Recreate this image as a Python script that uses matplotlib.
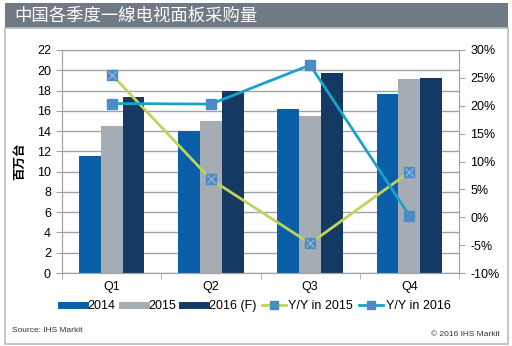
import numpy as np
import matplotlib
matplotlib.use("Agg")
import matplotlib.pyplot as plt
from matplotlib.patches import Rectangle
from matplotlib.lines import Line2D
from matplotlib.ticker import FuncFormatter

plt.rcParams['font.family'] = ['Liberation Sans', 'Noto Sans CJK SC']

quarters = ["Q1", "Q2", "Q3", "Q4"]
shipments_2014 = [11.5, 14.0, 16.2, 17.7]
shipments_2015 = [14.5, 15.0, 15.5, 19.1]
shipments_2016 = [17.4, 18.0, 19.7, 19.2]
yoy_2015 = [25.6, 6.8, -4.7, 8.1]
yoy_2016 = [20.4, 20.3, 27.3, 0.3]

c2014 = "#0b5ea8"
c2015 = "#a5acb3"
c2016 = "#143a64"
c_yoy15 = "#bfd35a"
c_yoy16 = "#1ba2c8"
c_marker = "#4b8cc6"
grid_c = "#a0a4a8"

fig = plt.figure(figsize=(5.12, 3.46), dpi=100)

# title bar
fig.patches.append(Rectangle((5 / 512, 1 - 28 / 346), 503 / 512, 25 / 346,
                             transform=fig.transFigure, facecolor="#6f7a84",
                             edgecolor="none"))
fig.text(14 / 512, 1 - 16 / 346, "中国各季度一線电视面板采购量", color="white",
         fontsize=12.5, va="center", ha="left",
         family=['Noto Sans CJK SC', 'DejaVu Sans'])
# outer frame
fig.patches.append(Rectangle((5 / 512, 0.005), 503 / 512, 1 - 28 / 346 - 0.005,
                             transform=fig.transFigure, facecolor="none",
                             edgecolor="#b8bcc0", linewidth=1.2))

ax = fig.add_axes([62 / 512, 1 - 273 / 346, 397 / 512, 223 / 346])
x = np.arange(len(quarters))
w = 0.22
ax.bar(x - w, shipments_2014, w, color=c2014, zorder=2)
ax.bar(x, shipments_2015, w, color=c2015, zorder=2)
ax.bar(x + w, shipments_2016, w, color=c2016, zorder=2)
ax.set_xlim(-0.5, 3.5)
ax.set_ylim(0, 22)
ax.set_yticks(range(0, 23, 2))
ax.yaxis.grid(True, color=grid_c, linewidth=1.0, zorder=0)
ax.set_axisbelow(True)
ax.set_xticks(x)
ax.set_xticklabels(quarters, fontsize=9)
ax.set_xticks([-0.5, 0.5, 1.5, 2.5, 3.5], minor=True)
ax.tick_params(axis="x", which="major", length=0, pad=6)
ax.tick_params(axis="x", which="minor", length=4, color=grid_c, direction="out")
ax.tick_params(axis="y", labelsize=9, length=4, color=grid_c, pad=4)
for s in ax.spines.values():
    s.set_color(grid_c)
ax.set_ylabel("百万台", fontsize=9, fontweight="bold",
              family=['Noto Sans CJK SC', 'DejaVu Sans'], labelpad=8)

ax2 = ax.twinx()
ax2.set_ylim(-10, 30)
ax2.set_yticks(range(-10, 31, 5))
ax2.yaxis.set_major_formatter(FuncFormatter(lambda v, p: "%d%%" % v))
ax2.tick_params(axis="y", labelsize=9, length=4, color=grid_c, pad=4)
for s in ax2.spines.values():
    s.set_color(grid_c)
ax2.plot(x, yoy_2015, color=c_yoy15, linewidth=2, zorder=3)
ax2.plot(x, yoy_2015, linestyle="none", marker="s", markersize=7,
         markerfacecolor=c_marker, markeredgecolor=c_marker, zorder=4)
ax2.plot(x, yoy_2015, linestyle="none", marker="x", markersize=6,
         markeredgecolor="#8fb2d8", markeredgewidth=1, zorder=5)
ax2.plot(x, yoy_2016, color=c_yoy16, linewidth=2, marker="s", markersize=7,
         markerfacecolor=c_marker, markeredgecolor=c_marker, zorder=4)

handles = [
    Line2D([0], [0], color=c2014, linewidth=5),
    Line2D([0], [0], color=c2015, linewidth=5),
    Line2D([0], [0], color=c2016, linewidth=5),
    Line2D([0], [0], color=c_yoy15, linewidth=2, marker="s", markersize=6,
           markerfacecolor=c_marker, markeredgecolor=c_marker),
    Line2D([0], [0], color=c_yoy16, linewidth=2, marker="s", markersize=6,
           markerfacecolor=c_marker, markeredgecolor=c_marker),
]
labels = ["2014", "2015", "2016 (F)", "Y/Y in 2015", "Y/Y in 2016"]
fig.legend(handles, labels, loc="center", bbox_to_anchor=(0.5, 1 - 306 / 346),
           ncol=5, frameon=False, fontsize=9, handlelength=1.9,
           handletextpad=0.2, columnspacing=0.5)

fig.text(12 / 512, 1 - 330 / 346, "Source: IHS Markit", fontsize=6,
         ha="left", va="center", color="#333333")
fig.text(500 / 512, 1 - 334 / 346, "© 2016 IHS Markit", fontsize=6,
         ha="right", va="center", color="#333333")

fig.savefig("out.png", dpi=100)
